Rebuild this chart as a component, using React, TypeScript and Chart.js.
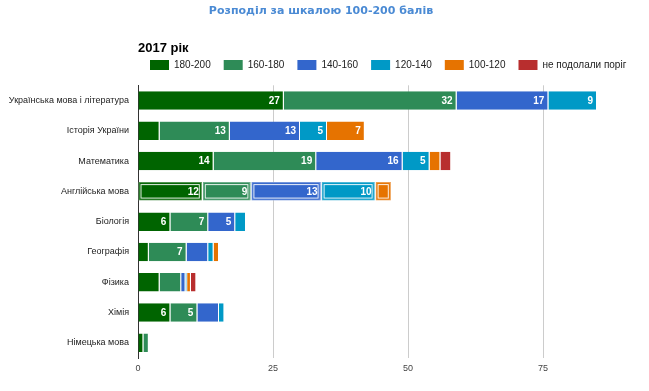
import React, { useEffect, useRef } from "react";
import { Chart, registerables } from "chart.js";
Chart.register(...registerables);

const categories = [
  "Українська мова і література",
  "Історія України",
  "Математика",
  "Англійська мова",
  "Біологія",
  "Географія",
  "Фізика",
  "Хімія",
  "Німецька мова",
];
const seriesNames = ["180-200", "160-180", "140-160", "120-140", "100-120", "не подолали поріг"];
const s180_200 = [27, 4, 14, 12, 6, 2, 4, 6, 1];
const s160_180 = [32, 13, 19, 9, 7, 7, 4, 5, 1];
const s140_160 = [17, 13, 16, 13, 5, 4, 0.8, 4, 0];
const s120_140 = [9, 5, 5, 10, 2, 1, 0.3, 1, 0];
const s100_120 = [0, 7, 2, 3, 0, 1, 0.7, 0, 0];
const sFail = [0, 0, 2, 0, 0, 0, 1, 0, 0];
const xTicks = [0, 25, 50, 75];
const colors = ["#006400", "#2e8b57", "#3366cc", "#0099c6", "#e67300", "#b82e2e"];
const highlightIndex = 3;
const labelMin = 5;

const FONT = "'Liberation Sans', Arial, sans-serif";

const positionPlugin = {
  id: "positionPlugin",
  afterLayout(chart: any) {
    const area = chart.chartArea;
    const lg = chart.legend;
    if (lg) {
      const w = lg.width;
      const h = lg.height;
      const pad = lg.options.labels.padding;
      lg.left = area.left + 12 - pad;
      lg.right = lg.left + w;
      lg.top = 65 - pad - 5;
      lg.bottom = lg.top + h;
    }
    chart.boxes.forEach((b: any) => {
      if (b.options && typeof b.options.text === "string" && b !== chart.legend) {
        const size = b.options.font.size;
        const w = b.right - b.left;
        const h = b.bottom - b.top;
        if (b.options.text === "2017 рік") {
          b.left = area.left;
          b.right = b.left + w;
          b.top = 48 - size * 0.6;
          b.bottom = b.top + h;
        } else {
          b.left = 321 - w / 2;
          b.right = b.left + w;
          b.top = 11.5 - size * 0.6;
          b.bottom = b.top + h;
        }
      }
    });
  },
};

const labelPlugin = {
  id: "labelPlugin",
  afterDatasetsDraw(chart: any) {
    const ctx = chart.ctx;
    ctx.save();
    chart.data.datasets.forEach((ds: any, di: number) => {
      const meta = chart.getDatasetMeta(di);
      const el = meta.data[highlightIndex];
      const v = ds.data[highlightIndex];
      if (!el || !v) return;
      const { x, y, base, height } = el.getProps(["x", "y", "base", "height"], true);
      const l = Math.min(x, base);
      const r = Math.max(x, base) - 1;
      const t = y - height / 2;
      ctx.strokeStyle = "rgba(255,255,255,0.9)";
      ctx.lineWidth = 1;
      ctx.strokeRect(l + 2.5, t + 2.5, r - l - 5, height - 5);
      ctx.strokeStyle = "rgba(255,255,255,0.35)";
      ctx.strokeRect(l + 0.5, t + 0.5, r - l - 1, height - 1);
    });
    ctx.fillStyle = "#ffffff";
    ctx.font = `bold 10px ${FONT}`;
    ctx.textAlign = "right";
    ctx.textBaseline = "middle";
    chart.data.datasets.forEach((ds: any, di: number) => {
      const meta = chart.getDatasetMeta(di);
      meta.data.forEach((el: any, i: number) => {
        const v = ds.data[i];
        if (v >= labelMin) {
          const { x, y } = el.getProps(["x", "y"], true);
          ctx.fillText(String(v), x - 4, y + 0.5);
        }
      });
    });
    ctx.restore();
  },
};

export default function App() {
  const ref = useRef<HTMLCanvasElement>(null);
  useEffect(() => {
    document.body.style.margin = "0";
    const seriesData = [s180_200, s160_180, s140_160, s120_140, s100_120, sFail];
    const chart = new Chart(ref.current as HTMLCanvasElement, {
      type: "bar",
      data: {
        labels: categories,
        datasets: seriesNames.map((name, i) => ({
          label: name,
          data: seriesData[i],
          backgroundColor: colors[i],
          borderColor: "rgba(255,255,255,0.8)",
          borderWidth: { top: 0, bottom: 0, left: 0, right: 1 },
          borderSkipped: false,
          barPercentage: 0.61,
          categoryPercentage: 1,
        })),
      },
      options: {
        indexAxis: "y",
        animation: false,
        responsive: false,
        maintainAspectRatio: false,
        layout: { padding: { top: 23.5, right: 25, bottom: 0, left: 0 } },
        scales: {
          x: {
            stacked: true,
            min: 0,
            max: 90,
            afterBuildTicks: (s: any) => {
              s.ticks = xTicks.map((v) => ({ value: v }));
            },
            afterFit: (s: any) => {
              s.height = 33;
            },
            grid: { color: "#cccccc", drawTicks: false, lineWidth: 1 },
            border: { display: false },
            ticks: { color: "#444444", font: { family: FONT, size: 9 }, padding: 5 },
          },
          y: {
            stacked: true,
            afterFit: (s: any) => {
              s.width = 138;
            },
            grid: { display: false, drawTicks: false },
            border: { display: true, color: "#333333", width: 1 },
            ticks: { color: "#222222", font: { family: FONT, size: 9 }, padding: 9 },
          },
        },
        plugins: {
          title: {
            display: true,
            text: "Розподіл за шкалою 100-200 балів",
            color: "#4a8ad4",
            font: { family: "'DejaVu Sans', Verdana, sans-serif", size: 11, weight: "bold" },
            padding: 0,
          },
          subtitle: {
            display: true,
            text: "2017 рік",
            color: "#000000",
            align: "start",
            font: { family: FONT, size: 13, weight: "bold" },
            padding: 0,
          },
          legend: {
            display: true,
            position: "top",
            align: "start",
            labels: {
              boxWidth: 19,
              boxHeight: 10,
              padding: 13,
              color: "#222222",
              font: { family: FONT, size: 10 },
              generateLabels: (c: any) =>
                Chart.defaults.plugins.legend.labels.generateLabels(c).map((it: any) => ({
                  ...it,
                  lineWidth: 0,
                })),
            },
          },
          tooltip: { enabled: false },
        },
      } as any,
      plugins: [positionPlugin, labelPlugin],
    });
    return () => chart.destroy();
  }, []);
  return <canvas ref={ref} width={649} height={391} style={{ display: "block" }} />;
}
